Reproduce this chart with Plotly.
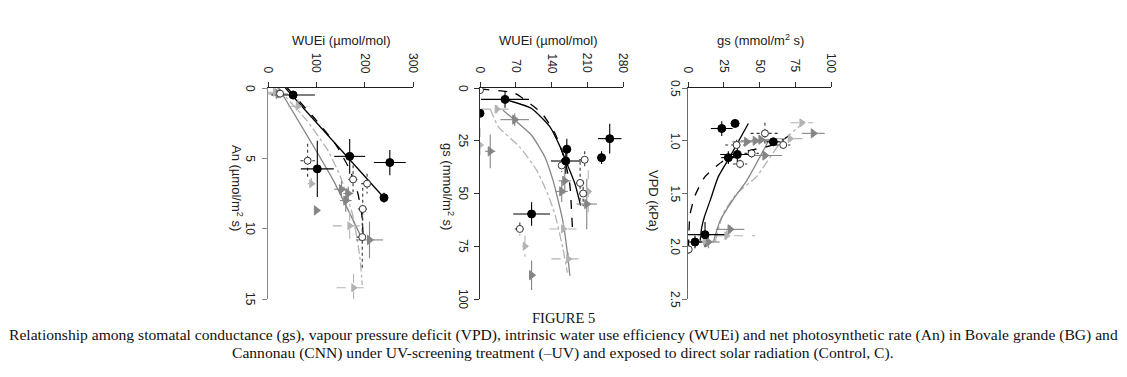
import plotly.graph_objects as go

W, H = 1127, 377

# ---------------- Panel 1: WUEi (x) vs An (y) ----------------
P1_BGC_X = [52, 169, 252, 102, 240]
P1_BGC_Y = [0.5, 4.86, 5.3, 5.75, 7.8]
P1_BGC_EX = [45, 32, 33, 34, 8]
P1_BGC_EY = [0.3, 1.24, 0.9, 2.0, 0.35]
P1_BGC_FIT_X = [36, 240]
P1_BGC_FIT_Y = [0.0, 7.8]

P1_BGU_X = [25, 82, 176, 205, 196, 195]
P1_BGU_Y = [0.4, 5.17, 6.5, 6.8, 8.6, 10.6]
P1_BGU_EX = [12, 15, 10, 12, 10, 12]
P1_BGU_EY = [0.3, 1.2, 1.0, 0.7, 1.5, 2.3]
P1_BGU_FIT_X = [40, 100, 140, 169, 186, 194, 197]
P1_BGU_FIT_Y = [0.0, 2.3, 4.0, 5.8, 7.5, 9.0, 10.6]

P1_CNC_X = [21, 100, 152, 161, 166, 210]
P1_CNC_Y = [0.42, 8.7, 7.2, 8.0, 7.5, 10.8]
P1_CNC_EX = [20, 0, 15, 12, 10, 28]
P1_CNC_EY = [0.3, 0, 0.6, 0.8, 0.5, 1.3]
P1_CNC_FIT_X = [22, 134, 193]
P1_CNC_FIT_Y = [0.0, 6.5, 10.6]

P1_CNU_X = [15, 62, 90, 169, 177]
P1_CNU_Y = [0.3, 1.3, 6.8, 9.8, 14.2]
P1_CNU_EX = [15, 20, 8, 35, 35]
P1_CNU_EY = [0.3, 0.5, 0.4, 1.0, 1.0]
P1_CNU_FIT_X = [20, 80, 125, 152, 175, 190, 195]
P1_CNU_FIT_Y = [0.0, 2.3, 4.5, 6.5, 9.0, 12.0, 14.0]

# ---------------- Panel 2: WUEi (x) vs gs (y) ----------------
P2_BGC_X = [49, 0, 170, 168, 238, 254, 101]
P2_BGC_Y = [5.4, 12, 29, 34.6, 33, 24, 59.7]
P2_BGC_EX = [47, 0, 8, 29, 8, 23, 36]
P2_BGC_EY = [4, 0, 5, 6, 3, 7, 5.6]
P2_BGC_FIT_X = [49, 101, 137, 157, 173, 186, 197]
P2_BGC_FIT_Y = [5.4, 9.7, 18.4, 27.9, 37.5, 45.5, 55.7]

P2_BGU_X = [0, 205, 160, 196, 202, 78]
P2_BGU_Y = [1, 34, 36.7, 45, 50, 66.8]
P2_BGU_EX = [3, 11, 6, 8, 8, 10]
P2_BGU_EY = [1, 4, 3, 10, 6, 3]
P2_BGU_FIT_X = [0, 68, 121, 147, 166, 176, 181]
P2_BGU_FIT_Y = [0.5, 2.5, 12, 21.6, 34, 46, 66.8]

P2_CNC_X = [68, 20, 166, 160, 209, 101]
P2_CNC_Y = [15, 30, 44, 49, 55, 88.7]
P2_CNC_EX = [28, 10, 12, 12, 20, 5]
P2_CNC_EY = [3, 8, 6, 5, 12, 7]
P2_CNC_FIT_X = [45, 68, 101, 127, 143, 153, 163, 170, 176]
P2_CNC_FIT_Y = [10.5, 15.2, 22.4, 32.7, 43.8, 53.3, 64, 76, 89]

P2_CNU_X = [33, 0, 88, 163, 173, 212]
P2_CNU_Y = [10, 27, 75, 66.8, 81, 49]
P2_CNU_EX = [30, 0, 5, 27, 33, 15]
P2_CNU_EY = [2, 8, 5, 3, 3, 10]
P2_CNU_FIT_X = [20, 36, 78, 111, 134, 148, 162, 171]
P2_CNU_FIT_Y = [10, 18.4, 28, 39, 51, 61, 75.6, 87.5]

# ---------------- Panel 3: gs (x) vs VPD (y) ----------------
P3_BGC_X = [23.6, 32.9, 59.7, 34.5, 28.2, 11.9, 4.9]
P3_BGC_Y = [0.884, 0.836, 1.01, 1.13, 1.16, 1.89, 1.96]
P3_BGC_EX = [7.6, 3, 5, 12, 5, 14, 5]
P3_BGC_EY = [0.07, 0.02, 0.03, 0.07, 0.06, 0.12, 0.06]
P3_BGC_FIT_X = [42.2, 29.4, 21.2, 15.4, 11.5, 9.6, 8.4]
P3_BGC_FIT_Y = [0.836, 1.15, 1.34, 1.57, 1.72, 1.82, 1.96]

P3_BGU_X = [53.8, 66.6, 34, 36.4, 44.5, 0.5]
P3_BGU_Y = [0.93, 1.04, 1.04, 1.22, 1.12, 2.03]
P3_BGU_EX = [10, 5, 8, 5, 5, 2]
P3_BGU_EY = [0.1, 0.05, 0.05, 0.04, 0.04, 0.04]
P3_BGU_FIT_X = [71, 59.7, 41, 24.7, 11.9, 4.9, 1.4, 0.3]
P3_BGU_FIT_Y = [0.95, 1.04, 1.1, 1.19, 1.34, 1.52, 1.7, 2.01]

P3_CNC_X = [87.6, 53.8, 41, 47, 51, 29.4, 14.2]
P3_CNC_Y = [0.93, 1.14, 1.01, 1.0, 0.99, 1.84, 1.96]
P3_CNC_EX = [8, 12, 10, 10, 6, 10, 8]
P3_CNC_EY = [0.03, 0.03, 0.02, 0.02, 0.02, 0.04, 0.06]
P3_CNC_FIT_X = [56, 41, 32.9, 22.4, 17.7]
P3_CNC_FIT_Y = [1.01, 1.38, 1.53, 1.76, 1.96]

P3_CNU_X = [79.5, 71.3, 27, 12]
P3_CNU_Y = [0.83, 0.98, 1.9, 1.95]
P3_CNU_EX = [8, 10, 20, 8]
P3_CNU_EY = [0.03, 0.03, 0.05, 0.05]
P3_CNU_FIT_X = [81.8, 64, 48, 34, 24.7, 18.9]
P3_CNU_FIT_Y = [0.82, 1.03, 1.34, 1.5, 1.69, 1.96]

X_TITLES = ["WUEi (µmol/mol)", "WUEi (µmol/mol)", "gs (mmol/m<sup>2</sup> s)"]
Y_TITLES = ["An (µmol/m<sup>2</sup> s)", "gs (mmol/m<sup>2</sup> s)", "VPD (kPa)"]
X_RANGES = [[0, 300], [0, 280], [0, 100]]
X_TICKS = [[0, 100, 200, 300], [0, 70, 140, 210, 280], [0, 25, 50, 75, 100]]
X_TICKTEXT = [["0", "100", "200", "300"], ["0", "70", "140", "210", "280"],
              ["0", "25", "50", "75", "100"]]
Y_RANGES = [[15, 0], [100, 0], [2.5, 0.5]]
Y_TICKS = [[0, 5, 10, 15], [0, 25, 50, 75, 100], [0.5, 1.0, 1.5, 2.0, 2.5]]
Y_TICKTEXT = [["0", "5", "10", "15"], ["0", "25", "50", "75", "100"],
              ["0.5", "1.0", "1.5", "2.0", "2.5"]]

CAPTION_TITLE = "FIGURE 5"
CAPTION_1 = ("Relationship among stomatal conductance (gs), vapour pressure deficit (VPD), "
             "intrinsic water use efficiency (WUEi) and net photosynthetic rate (An) in "
             "Bovale grande (BG) and")
CAPTION_2 = ("Cannonau (CNN) under UV-screening treatment (–UV) and exposed to direct "
             "solar radiation (Control, C).")

# ---------------- layout geometry (pixels) ----------------
PANEL_X = [(268, 413), (480, 623), (688, 831)]
PANEL_Y = (88, 299)
XT_POS = [(341, 40), (548, 40), (760, 40)]
YT_POS = [(237, 188), (448, 187), (654, 200)]
XTICKLABEL_BOTTOM = 74
YTICKLABEL_RIGHT = [258, 471, 683]
YAXIS_COLORS = ["#8a8a8a", "#303030", "#6a6a6a"]

BLACK = "#000000"
GRAY = "#858585"
LGRAY = "#b3b3b3"

STYLES = {
    "BGC": dict(mcolor=BLACK, symbol="circle", lcolor=BLACK, ldash="solid",
                ecolor=BLACK, edash="solid", mline=BLACK, size=8),
    "BGU": dict(mcolor="white", symbol="circle", lcolor=BLACK, ldash="dash",
                ecolor="#333333", edash="dot", mline="#333333", size=7),
    "CNC": dict(mcolor=GRAY, symbol="triangle-right", lcolor=GRAY, ldash="solid",
                ecolor=GRAY, edash="solid", mline=GRAY, size=8),
    "CNU": dict(mcolor=LGRAY, symbol="triangle-right", lcolor=LGRAY, ldash="dashdot",
                ecolor=LGRAY, edash="dash", mline=LGRAY, size=7),
}

DATA = [
    {"BGC": (P1_BGC_X, P1_BGC_Y, P1_BGC_EX, P1_BGC_EY, P1_BGC_FIT_X, P1_BGC_FIT_Y),
     "BGU": (P1_BGU_X, P1_BGU_Y, P1_BGU_EX, P1_BGU_EY, P1_BGU_FIT_X, P1_BGU_FIT_Y),
     "CNC": (P1_CNC_X, P1_CNC_Y, P1_CNC_EX, P1_CNC_EY, P1_CNC_FIT_X, P1_CNC_FIT_Y),
     "CNU": (P1_CNU_X, P1_CNU_Y, P1_CNU_EX, P1_CNU_EY, P1_CNU_FIT_X, P1_CNU_FIT_Y)},
    {"BGC": (P2_BGC_X, P2_BGC_Y, P2_BGC_EX, P2_BGC_EY, P2_BGC_FIT_X, P2_BGC_FIT_Y),
     "BGU": (P2_BGU_X, P2_BGU_Y, P2_BGU_EX, P2_BGU_EY, P2_BGU_FIT_X, P2_BGU_FIT_Y),
     "CNC": (P2_CNC_X, P2_CNC_Y, P2_CNC_EX, P2_CNC_EY, P2_CNC_FIT_X, P2_CNC_FIT_Y),
     "CNU": (P2_CNU_X, P2_CNU_Y, P2_CNU_EX, P2_CNU_EY, P2_CNU_FIT_X, P2_CNU_FIT_Y)},
    {"BGC": (P3_BGC_X, P3_BGC_Y, P3_BGC_EX, P3_BGC_EY, P3_BGC_FIT_X, P3_BGC_FIT_Y),
     "BGU": (P3_BGU_X, P3_BGU_Y, P3_BGU_EX, P3_BGU_EY, P3_BGU_FIT_X, P3_BGU_FIT_Y),
     "CNC": (P3_CNC_X, P3_CNC_Y, P3_CNC_EX, P3_CNC_EY, P3_CNC_FIT_X, P3_CNC_FIT_Y),
     "CNU": (P3_CNU_X, P3_CNU_Y, P3_CNU_EX, P3_CNU_EY, P3_CNU_FIT_X, P3_CNU_FIT_Y)},
]

ORDER_LINES = ["CNU", "CNC", "BGU", "BGC"]


def err_segments(xs, ys, exs, eys):
    sx, sy = [], []
    for x, y, ex, ey in zip(xs, ys, exs, eys):
        if ex:
            sx += [x - ex, x + ex, None]
            sy += [y, y, None]
        if ey:
            sx += [x, x, None]
            sy += [y - ey, y + ey, None]
    return sx, sy


fig = go.Figure()
TICKFONT = dict(family="Liberation Sans, Arial", size=12, color="#202020")
TITLEFONT = dict(family="Liberation Sans, Arial", size=13, color="#202020")

for i in range(3):
    xa = "x" if i == 0 else f"x{i+1}"
    ya = "y" if i == 0 else f"y{i+1}"
    for key in ORDER_LINES:
        st = STYLES[key]
        fx, fy = DATA[i][key][4], DATA[i][key][5]
        fig.add_trace(go.Scatter(x=fx, y=fy, mode="lines", xaxis=xa, yaxis=ya,
                                 line=dict(color=st["lcolor"], dash=st["ldash"], width=1.3,
                                           shape="spline", smoothing=0.5),
                                 showlegend=False, hoverinfo="skip"))
    for key in ORDER_LINES:
        st = STYLES[key]
        x, y, ex, ey = DATA[i][key][:4]
        sx, sy = err_segments(x, y, ex, ey)
        fig.add_trace(go.Scatter(x=sx, y=sy, mode="lines", xaxis=xa, yaxis=ya,
                                 line=dict(color=st["ecolor"], dash=st["edash"], width=1.1),
                                 showlegend=False, hoverinfo="skip"))
    for key in ORDER_LINES:
        st = STYLES[key]
        x, y = DATA[i][key][:2]
        fig.add_trace(go.Scatter(x=x, y=y, mode="markers", xaxis=xa, yaxis=ya,
                                 marker=dict(color=st["mcolor"], symbol=st["symbol"], size=st["size"],
                                             line=dict(color=st["mline"], width=1)),
                                 showlegend=False))

layout = dict(width=W, height=H, margin=dict(l=0, r=0, t=0, b=0),
              paper_bgcolor="white", plot_bgcolor="white", showlegend=False)
annotations = []
for i in range(3):
    xk = "xaxis" if i == 0 else f"xaxis{i+1}"
    yk = "yaxis" if i == 0 else f"yaxis{i+1}"
    ya_ref = "y" if i == 0 else f"y{i+1}"
    xa_ref = "x" if i == 0 else f"x{i+1}"
    x0, x1 = PANEL_X[i]
    layout[xk] = dict(domain=[x0 / W, x1 / W], range=X_RANGES[i], side="top",
                      anchor=ya_ref, tickvals=X_TICKS[i], showticklabels=False,
                      ticks="outside", ticklen=5, tickcolor="#303030",
                      showline=True, linecolor="#202020", linewidth=1,
                      showgrid=False, zeroline=False)
    layout[yk] = dict(domain=[1 - PANEL_Y[1] / H, 1 - PANEL_Y[0] / H], range=Y_RANGES[i],
                      anchor=xa_ref, tickvals=Y_TICKS[i], showticklabels=False,
                      ticks="outside", ticklen=5,
                      tickcolor=YAXIS_COLORS[i], showline=True,
                      linecolor=YAXIS_COLORS[i], linewidth=1.3,
                      showgrid=False, zeroline=False)
    for v, t in zip(X_TICKS[i], X_TICKTEXT[i]):
        annotations.append(dict(text=t, x=v, xref=xa_ref, y=1 - XTICKLABEL_BOTTOM / H,
                                yref="paper", showarrow=False, textangle=90, font=TICKFONT,
                                xanchor="center", yanchor="bottom", borderpad=0))
    for v, t in zip(Y_TICKS[i], Y_TICKTEXT[i]):
        annotations.append(dict(text=t, y=v, yref=ya_ref, x=YTICKLABEL_RIGHT[i] / W,
                                xref="paper", showarrow=False, textangle=90, font=TICKFONT,
                                xanchor="right", yanchor="middle", borderpad=0))
    tx, ty = XT_POS[i]
    annotations.append(dict(text=X_TITLES[i], x=tx / W, y=1 - ty / H, xref="paper",
                            yref="paper", showarrow=False, font=TITLEFONT,
                            xanchor="center", yanchor="middle"))
    tx, ty = YT_POS[i]
    annotations.append(dict(text=Y_TITLES[i], x=tx / W, y=1 - ty / H, xref="paper",
                            yref="paper", showarrow=False, textangle=90,
                            font=TITLEFONT, xanchor="center", yanchor="middle"))

SERIF = dict(family="Liberation Serif, Times New Roman", size=15.6, color="#111111")
SERIF_T = dict(family="Liberation Serif, Times New Roman", size=14.5, color="#111111")
annotations.append(dict(text=CAPTION_TITLE, x=563 / W, y=1 - 318 / H, xref="paper", yref="paper",
                        showarrow=False, font=SERIF_T, xanchor="center", yanchor="middle",
                        borderpad=0))
annotations.append(dict(text=CAPTION_1, x=563 / W, y=1 - 335 / H, xref="paper", yref="paper",
                        showarrow=False, font=SERIF, xanchor="center", yanchor="middle",
                        borderpad=0))
annotations.append(dict(text=CAPTION_2, x=563 / W, y=1 - 353 / H, xref="paper", yref="paper",
                        showarrow=False, font=SERIF, xanchor="center", yanchor="middle",
                        borderpad=0))
layout["annotations"] = annotations
fig.update_layout(**layout)

fig.write_html("out.html", config={"displayModeBar": False},
               post_script="document.body.style.margin='0';document.body.style.overflow='hidden';")
